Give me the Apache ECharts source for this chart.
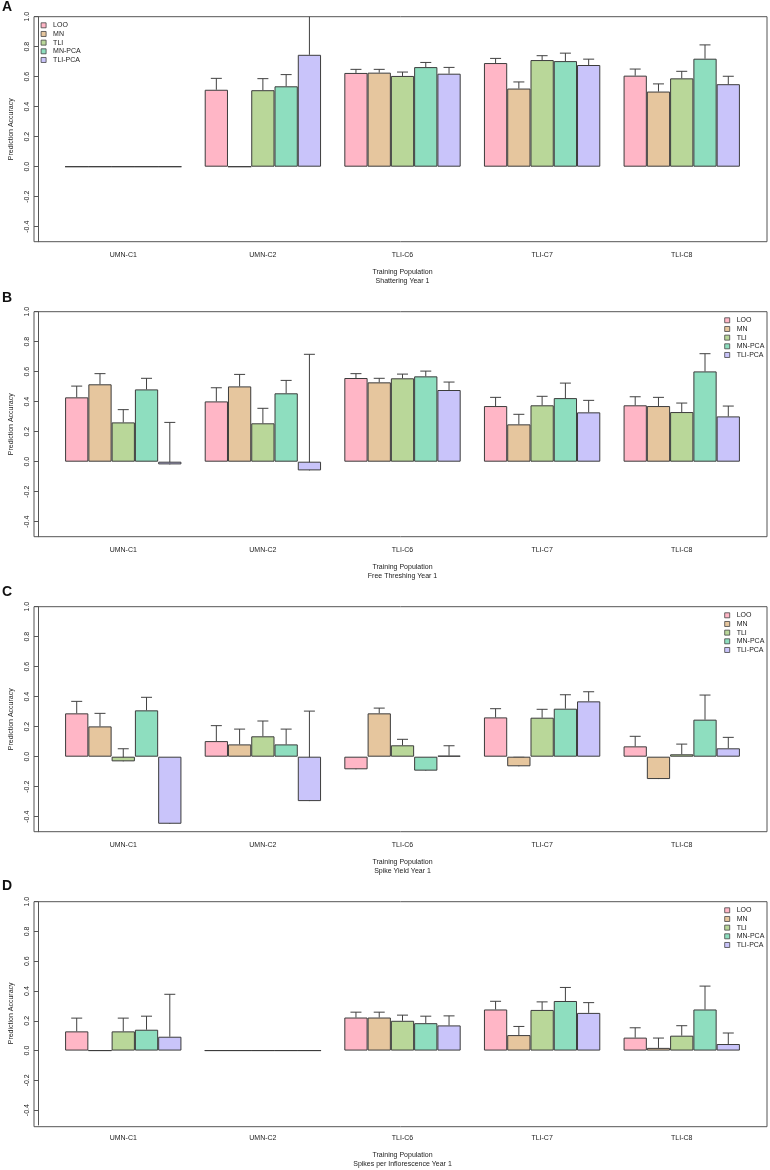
<!DOCTYPE html>
<html><head><meta charset="utf-8">
<script src="https://cdn.jsdelivr.net/npm/echarts@6/dist/echarts.min.js"></script>
<style>html,body{margin:0;padding:0;background:#fff}#c{width:770px;height:1170px}</style>
</head><body><div id="c"></div>
<script>
// ---------------- data ----------------
const categories = ['UMN-C1', 'UMN-C2', 'TLI-C6', 'TLI-C7', 'TLI-C8'];
const methods = ['LOO', 'MN', 'TLI', 'MN-PCA', 'TLI-PCA'];
const panelLetters = ['A', 'B', 'C', 'D'];
const panelTraits = ['Shattering Year 1', 'Free Threshing Year 1', 'Spike Yield Year 1', 'Spikes per Inflorescence Year 1'];
const xTitle = 'Training Population';
const yTitle = 'Prediction Accuracy';
const yTicks = [-0.4, -0.2, 0.0, 0.2, 0.4, 0.6, 0.8, 1.0];

// rows = methods (LOO, MN, TLI, MN-PCA, TLI-PCA), columns = categories
const shatteringValues = [
  [0, 0.513, 0.625, 0.691, 0.607],
  [0, 0, 0.627, 0.521, 0.501],
  [0, 0.510, 0.605, 0.711, 0.589],
  [0, 0.536, 0.664, 0.704, 0.720],
  [0, 0.746, 0.620, 0.678, 0.550]
];
const shatteringErrors = [
  [null, 0.076, 0.024, 0.031, 0.044],
  [null, null, 0.022, 0.044, 0.051],
  [null, 0.077, 0.026, 0.029, 0.047],
  [null, 0.078, 0.031, 0.053, 0.092],
  [null, 0.400, 0.042, 0.039, 0.053]
];
const threshingValues = [
  [0.429, 0.402, 0.558, 0.371, 0.376],
  [0.516, 0.502, 0.529, 0.249, 0.371],
  [0.262, 0.256, 0.556, 0.376, 0.331],
  [0.482, 0.456, 0.569, 0.424, 0.602],
  [-0.018, -0.058, 0.478, 0.329, 0.302]
];
const threshingErrors = [
  [0.075, 0.091, 0.029, 0.058, 0.057],
  [0.071, 0.080, 0.027, 0.067, 0.058],
  [0.085, 0.100, 0.028, 0.060, 0.060],
  [0.074, 0.086, 0.035, 0.100, 0.118],
  [0.280, 0.774, 0.053, 0.080, 0.069]
];
const spikeYieldValues = [
  [0.289, 0.104, -0.084, 0.262, 0.069],
  [0.202, 0.082, 0.289, -0.064, -0.149],
  [-0.031, 0.136, 0.076, 0.260, 0.016],
  [0.309, 0.082, -0.093, 0.320, 0.247],
  [-0.447, -0.296, 0.007, 0.369, 0.056]
];
const spikeYieldErrors = [
  [0.080, 0.103, 0.037, 0.058, 0.067],
  [0.087, 0.102, 0.035, 0.060, 0.065],
  [0.084, 0.102, 0.040, 0.056, 0.068],
  [0.087, 0.102, 0.046, 0.093, 0.164],
  [0.203, 0.600, 0.066, 0.064, 0.073]
];
const spikesPerInflValues = [
  [0.129, 0, 0.222, 0.276, 0.087],
  [0, 0, 0.222, 0.104, 0.018],
  [0.129, 0, 0.200, 0.273, 0.100],
  [0.140, 0, 0.184, 0.333, 0.276],
  [0.093, 0, 0.169, 0.253, 0.044]
];
const spikesPerInflErrors = [
  [0.089, null, 0.036, 0.055, 0.066],
  [null, null, 0.036, 0.058, 0.066],
  [0.089, null, 0.038, 0.054, 0.067],
  [0.091, null, 0.047, 0.091, 0.157],
  [0.285, null, 0.064, 0.069, 0.074]
];

const panelValues = [shatteringValues, threshingValues, spikeYieldValues, spikesPerInflValues];
const panelErrors = [shatteringErrors, threshingErrors, spikeYieldErrors, spikesPerInflErrors];

// ---------------- styles / layout ----------------
const colors = ['#FFB6C6', '#E6C69E', '#B9D799', '#8EDEBF', '#C9C4FA'];
const FONT = '"Liberation Sans", Arial, Helvetica, sans-serif';
const TXT = '#222';
const LINE = '#555';
const frameLeft = 34, frameW = 733, panelH = 225;
const panelTop = [16.7, 311.7, 606.7, 901.7];
const letterTop = [0, 291, 585, 879];
const unit = frameW / 31.32;       // R barplot unit (one bar width)
const inset = 0.66 * unit;         // from plot edge to first category band

const grid = [], xAxis = [], yAxis = [], series = [], legend = [], title = [];

panelTop.forEach((top, p) => {
  // frame grid (the R box)
  grid.push({left: frameLeft, top: top, width: frameW, height: panelH, show: true,
    borderColor: LINE, borderWidth: 1, backgroundColor: 'transparent'});
  // data grid
  grid.push({left: frameLeft + inset, top: top, width: frameW - 2 * inset, height: panelH});

  xAxis.push({gridIndex: 2 * p, type: 'value', show: false, min: 0, max: 1});
  yAxis.push({gridIndex: 2 * p, type: 'value', show: false, min: 0, max: 1});

  xAxis.push({
    gridIndex: 2 * p + 1, type: 'category', data: categories,
    axisLine: {show: false}, axisTick: {show: false}, splitLine: {show: false},
    axisLabel: {fontSize: 7, margin: 10, color: TXT, fontFamily: FONT},
    name: xTitle + '\n' + panelTraits[p], nameLocation: 'middle', nameGap: 26,
    nameTextStyle: {fontSize: 7, lineHeight: 9, color: TXT, fontFamily: FONT}
  });
  yAxis.push({
    gridIndex: 2 * p + 1, type: 'value', min: -0.5, max: 1.0, offset: inset,
    splitLine: {show: false},
    axisLine: {show: true, lineStyle: {color: LINE, width: 1}},
    axisTick: {show: true, length: 4, customValues: yTicks, lineStyle: {color: LINE}},
    axisLabel: {customValues: yTicks, rotate: 90, fontSize: 7, margin: 7, color: TXT, fontFamily: FONT,
      formatter: v => (Math.abs(v) < 1e-9 ? 0 : v).toFixed(1)},
    name: yTitle, nameLocation: 'middle', nameRotate: 90, nameGap: 23,
    nameTextStyle: {fontSize: 7, color: TXT, fontFamily: FONT}
  });

  methods.forEach((m, i) => {
    series.push({
      type: 'bar', name: m, xAxisIndex: 2 * p + 1, yAxisIndex: 2 * p + 1,
      data: panelValues[p][i], barGap: '0%', barCategoryGap: '16.667%',
      itemStyle: {color: colors[i], borderColor: '#3c3c3c', borderWidth: 1},
      emphasis: {disabled: true}, silent: true, animation: false
    });
  });

  const errData = [];
  panelErrors[p].forEach((row, i) => row.forEach((e, c) => {
    if (e !== null) errData.push([c, i, panelValues[p][i][c], e]);
  }));
  series.push({
    type: 'custom', xAxisIndex: 2 * p + 1, yAxisIndex: 2 * p + 1, clip: true,
    dimensions: ['cat', 'method', 'value', 'err'], encode: {x: 0, y: 2},
    data: errData, silent: true, animation: false,
    renderItem: (params, api) => {
      const c = api.value(0), i = api.value(1), v = api.value(2), e = api.value(3);
      const band = api.size([1, 0])[0];
      const p0 = api.coord([c, v]);
      const p1 = api.coord([c, v + e]);
      const x = p0[0] + (i - 2) * band / 6;
      const cap = 5.5;
      const st = {stroke: '#404040', lineWidth: 1};
      return {type: 'group', children: [
        {type: 'line', shape: {x1: x, y1: p0[1], x2: x, y2: p1[1]}, style: st},
        {type: 'line', shape: {x1: x - cap, y1: p1[1], x2: x + cap, y2: p1[1]}, style: st}
      ]};
    }
  });

  legend.push({
    data: methods, orient: 'vertical', selectedMode: false,
    left: p === 0 ? 40.7 : 724.3, top: top + 5.1, padding: 0,
    itemWidth: 5, itemHeight: 5, itemGap: 1.67, icon: 'rect',
    itemStyle: {borderColor: '#444', borderWidth: 0.8},
    textStyle: {fontSize: 7, lineHeight: 7, color: TXT, fontFamily: FONT, padding: [0, 0, 0, 2]}
  });

  title.push({text: panelLetters[p], left: 2, top: letterTop[p], padding: 0,
    textStyle: {fontSize: 14, fontWeight: 'bold', color: '#111', fontFamily: FONT}});
});

const chart = echarts.init(document.getElementById('c'), null, {renderer: 'canvas'});
chart.setOption({
  animation: false, backgroundColor: '#fff',
  textStyle: {fontFamily: FONT},
  title, grid, xAxis, yAxis, legend, series
});
</script>
</body></html>
